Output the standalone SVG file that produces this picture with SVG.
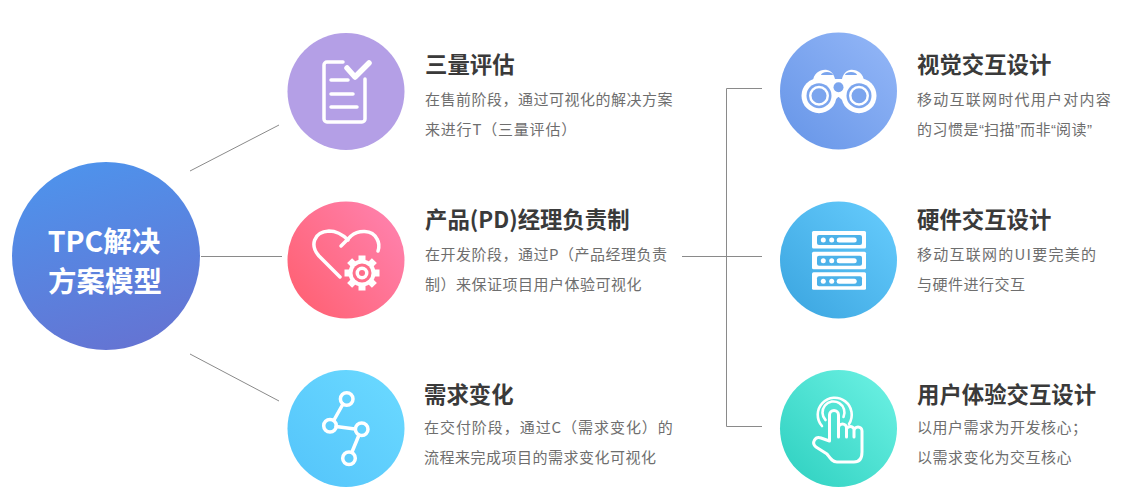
<svg xmlns="http://www.w3.org/2000/svg" width="1146" height="501" viewBox="0 0 1146 501">
<style>
text{font-family:"Noto Sans CJK SC","Noto Sans",sans-serif}
.t{font-size:22.4px;font-weight:700;fill:#3a3a3a}
.d{font-size:15px;fill:#6e6e6e;letter-spacing:.5px}
.r{letter-spacing:1.25px}
.q{font-family:"Liberation Sans",sans-serif;letter-spacing:0}
.c{font-size:28.5px;font-weight:700;fill:#fff;text-anchor:middle}
.l{fill:none;stroke:#8a8a8a;stroke-width:1}
.i{fill:none;stroke:#fff;stroke-width:3.5;stroke-linecap:round;stroke-linejoin:round}
.w{fill:#fff}
</style>
<defs>
<linearGradient id="g0" x1="0.3" y1="0" x2="0.6" y2="1"><stop offset="0" stop-color="#4e93ec"/><stop offset="1" stop-color="#6474d3"/></linearGradient>
<linearGradient id="g2" x1="0.1" y1="0.8" x2="0.9" y2="0.2"><stop offset="0" stop-color="#ff6377"/><stop offset="1" stop-color="#ff7fa9"/></linearGradient>
<linearGradient id="g3" x1="0.1" y1="0.9" x2="0.9" y2="0.1"><stop offset="0" stop-color="#56c6fb"/><stop offset="1" stop-color="#69d8ff"/></linearGradient>
<linearGradient id="g4" x1="0.1" y1="0.9" x2="0.9" y2="0.1"><stop offset="0" stop-color="#6a98e9"/><stop offset="1" stop-color="#90b4f6"/></linearGradient>
<linearGradient id="g5" x1="0.1" y1="0.9" x2="0.9" y2="0.1"><stop offset="0" stop-color="#3ea8e2"/><stop offset="1" stop-color="#63c9fb"/></linearGradient>
<linearGradient id="g6" x1="0.1" y1="0.9" x2="0.9" y2="0.1"><stop offset="0" stop-color="#33d3c3"/><stop offset="1" stop-color="#68efe1"/></linearGradient>
<g id="srv"><rect class="w" x="812" y="231" width="54" height="17.5" rx="1.5"/><rect x="817" y="235" width="45" height="10" rx="2" fill="#4cb2e9"/><circle class="w" cx="823.3" cy="240" r="2.5"/><circle class="w" cx="831.7" cy="240" r="2.5"/><rect class="w" x="836.7" y="237.5" width="20" height="5" rx="2.5"/></g>
</defs>
<g id="connectors">
<path class="l" d="M190 171L279 125"/>
<path class="l" d="M201 256.5H282"/>
<path class="l" d="M190 354L279 401"/>
<path class="l" d="M682 256.5H762"/>
<path class="l" d="M762 88.5H726.5V426.5H762"/>
</g>
<g id="center">
<circle cx="106" cy="256" r="94" fill="url(#g0)"/>
<text class="c" x="104" y="252">TPC解决</text>
<text class="c" x="105" y="292">方案模型</text>
</g>
<g id="n1">
<circle cx="346" cy="91.5" r="58.5" fill="#b49fe6"/>
<path class="i" d="M343 62H327a3 3 0 0 0-3 3V119a3 3 0 0 0 3 3H362a3 3 0 0 0 3-3V79"/>
<path class="i" stroke-linecap="butt" d="M331 80H348M331 94H353M331 107H357"/>
<path class="i" style="stroke-width:5.5" stroke-linecap="butt" d="M347 68L355 77L369 63"/>
<text class="t" x="425" y="73">三量评估</text>
<text class="d" x="425" y="105">在售前阶段，通过可视化的解决方案</text>
<text class="d" x="425" y="135" style="letter-spacing:.8px">来进行T（三量评估）</text>
</g>
<g id="n2">
<circle cx="346" cy="260" r="58.5" fill="url(#g2)"/>
<path class="i" d="M340 277L319 256C310 246 313 232 329 231C337 231 342 234 348 240"/>
<path class="i" d="M341 246L351 236C358 230 372 229 377 239C380 244 379 248 378 251"/>
<g transform="translate(362 273)">
<circle r="13.5" class="w"/>
<g class="w"><rect x="-3.5" y="-17.5" width="7" height="35"/><rect x="-3.5" y="-17.5" width="7" height="35" transform="rotate(45)"/><rect x="-3.5" y="-17.5" width="7" height="35" transform="rotate(90)"/><rect x="-3.5" y="-17.5" width="7" height="35" transform="rotate(135)"/></g>
<circle r="9.5" fill="#ff6e8a"/><circle r="6.5" class="w"/><circle r="3" fill="#ff6e8a"/>
</g>
<text class="t" x="425" y="228">产品(PD)经理负责制</text>
<text class="d" x="425" y="260">在开发阶段，通过P（产品经理负责</text>
<text class="d" x="425" y="290">制）来保证项目用户体验可视化</text>
</g>
<g id="n3">
<circle cx="346" cy="428.5" r="58.5" fill="url(#g3)"/>
<path class="i" stroke-linecap="butt" d="M343 404L334 420M336 426.5L355 429M359 435L352 452"/>
<circle class="i" cx="346.7" cy="399" r="6.3"/>
<circle class="i" cx="330" cy="425.7" r="6.3"/>
<circle class="i" cx="361.7" cy="429.3" r="6.3"/>
<circle class="i" cx="349" cy="458.3" r="6.3"/>
<text class="t" x="424" y="403">需求变化</text>
<text class="d" x="424" y="433" style="letter-spacing:.95px">在交付阶段，通过C（需求变化）的</text>
<text class="d" x="424" y="463">流程来完成项目的需求变化可视化</text>
</g>
<g id="n4">
<circle cx="838.5" cy="91" r="58.5" fill="url(#g4)"/>
<path class="w" d="M813 82C813 73 821 69 827 70C832 71 834 75 835 79H842C843 75 845 71 850 70C856 69 864 73 864 82Z"/>
<path fill="none" stroke="#fff" stroke-width="7" d="M826 103L838.5 92L851 103"/>
<circle class="w" cx="819" cy="95.7" r="17.5"/>
<circle class="w" cx="859" cy="95.7" r="17.5"/>
<rect class="w" x="818" y="80" width="40" height="12"/>
<circle cx="838.5" cy="87.3" r="5" fill="#7ba5ee"/>
<path d="M821 75a6 3 0 0 1 12 0z" fill="#7ba5ee"/><path d="M845 75a6 3 0 0 1 12 0z" fill="#7ba5ee"/>
<circle cx="819" cy="95.7" r="12.5" fill="#7ba5ee"/><circle cx="819" cy="95.7" r="10" class="w"/><circle cx="819" cy="95.7" r="7.5" fill="#7ba5ee"/>
<circle cx="859" cy="95.7" r="12.5" fill="#7ba5ee"/><circle cx="859" cy="95.7" r="10" class="w"/><circle cx="859" cy="95.7" r="7.5" fill="#7ba5ee"/>
<text class="t" x="917" y="73">视觉交互设计</text>
<text class="d r" x="917" y="105">移动互联网时代用户对内容</text>
<text class="d" x="917" y="135">的习惯是<tspan class="q">“</tspan>扫描<tspan class="q">”</tspan>而非<tspan class="q">“</tspan>阅读<tspan class="q">”</tspan></text>
</g>
<g id="n5">
<circle cx="838.5" cy="260" r="58.5" fill="url(#g5)"/>
<use href="#srv"/>
<use href="#srv" y="20.7"/>
<use href="#srv" y="41.3"/>
<text class="t" x="917" y="228">硬件交互设计</text>
<text class="d r" x="917" y="260">移动互联网的UI要完美的</text>
<text class="d" x="917" y="290">与硬件进行交互</text>
</g>
<g id="n6">
<circle cx="838.5" cy="428.5" r="58.5" fill="url(#g6)"/>
<path class="i" style="stroke-width:2.6" d="M822 426A17 17 0 1 1 849 424"/>
<path class="i" style="stroke-width:2.6" d="M825.5 420A11 11 0 1 1 843.5 417"/>
<path class="i" style="stroke-width:3" d="M829.5 441V415a4.5 4.5 0 0 1 9 0V437M838.5 428a4 4 0 0 1 8 0V437M846.5 429a4 4 0 0 1 7.5 0V437M854 431a4 4 0 0 1 8 0V452C862 459 859 462 854 462H837C832 462 830 458 827 454L816 447C811 443 815 436 821 438L829.5 441"/>
<text class="t" x="917" y="403">用户体验交互设计</text>
<text class="d" x="917" y="433">以用户需求为开发核心；</text>
<text class="d" x="917" y="463">以需求变化为交互核心</text>
</g>
</svg>
